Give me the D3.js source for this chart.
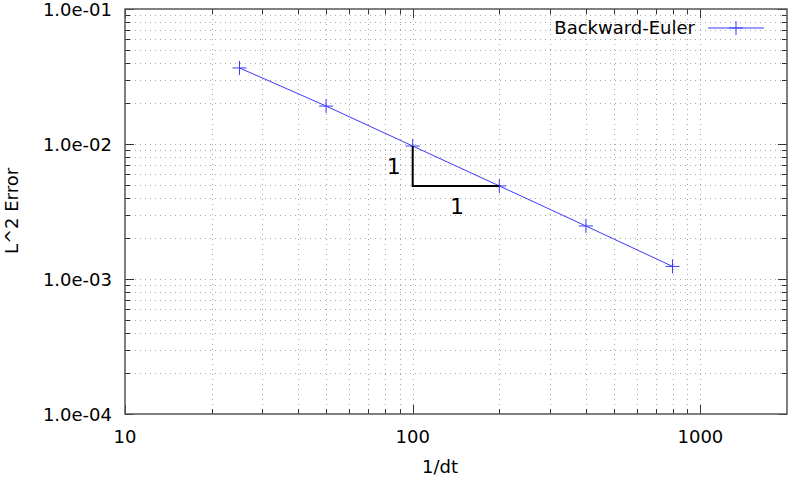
<!DOCTYPE html>
<html><head><meta charset="utf-8">
<script src="https://cdn.jsdelivr.net/npm/d3@7"></script>
<style>
body{margin:0;background:#fff;}
text{font-family:"DejaVu Sans",sans-serif;fill:#000;}
</style></head>
<body>
<svg id="c" width="789" height="478"></svg>
<script>
const dtInv = [25, 50, 100, 200, 400, 800];
const l2Error = [0.0366, 0.0191, 0.00966, 0.00489, 0.00247, 0.00124];
const seriesName = "Backward-Euler";
const xMajorTicks = [10, 100, 1000];
const yMajorTicks = [1e-4, 1e-3, 1e-2, 1e-1];
const yTickLabels = ["1.0e-04", "1.0e-03", "1.0e-02", "1.0e-01"];
const slopeTriangle = [[100, 0.00966], [100, 0.00489], [200, 0.00489]];
const slopeLabels = ["1", "1"];

const svg = d3.select("#c");
const L = 125, R = 787, T = 9, B = 414;
const x = d3.scaleLog().domain([10, 2000]).range([L, R]);
const y = d3.scaleLog().domain([1e-4, 1e-1]).range([B, T]);

// minor ticks
const xMinor = [], yMinor = [];
for (let d = 10; d < 2000; d *= 10) for (let m = 2; m <= 9; m++) if (d*m < 2000) xMinor.push(d*m);
for (let d = 1e-4; d < 1e-1*0.999; d *= 10) for (let m = 2; m <= 9; m++) yMinor.push(d*m);

const grid = svg.append("g").attr("stroke", "#a8a8a8").attr("stroke-width", 1).attr("stroke-dasharray", "1,4");
xMinor.concat(xMajorTicks.slice(1)).forEach(v => {
  grid.append("line").attr("x1", Math.round(x(v))+0.5).attr("x2", Math.round(x(v))+0.5).attr("y1", T).attr("y2", B);
});
yMinor.concat(yMajorTicks.slice(1, 3)).forEach(v => {
  grid.append("line").attr("y1", Math.round(y(v))+0.5).attr("y2", Math.round(y(v))+0.5).attr("x1", L).attr("x2", R);
});

// axes with ticks on all sides
const tk = svg.append("g").attr("stroke", "#333").attr("stroke-width", 1);
xMajorTicks.forEach(v => {
  const px = Math.round(x(v))+0.5;
  tk.append("line").attr("x1", px).attr("x2", px).attr("y1", B).attr("y2", B-9);
  tk.append("line").attr("x1", px).attr("x2", px).attr("y1", T).attr("y2", T+9);
});
xMinor.forEach(v => {
  const px = Math.round(x(v))+0.5;
  tk.append("line").attr("x1", px).attr("x2", px).attr("y1", B).attr("y2", B-5);
  tk.append("line").attr("x1", px).attr("x2", px).attr("y1", T).attr("y2", T+5);
});
yMajorTicks.forEach(v => {
  const py = Math.round(y(v))+0.5;
  tk.append("line").attr("y1", py).attr("y2", py).attr("x1", L).attr("x2", L+9);
  tk.append("line").attr("y1", py).attr("y2", py).attr("x1", R).attr("x2", R-9);
});
yMinor.forEach(v => {
  const py = Math.round(y(v))+0.5;
  tk.append("line").attr("y1", py).attr("y2", py).attr("x1", L).attr("x2", L+5);
  tk.append("line").attr("y1", py).attr("y2", py).attr("x1", R).attr("x2", R-5);
});

svg.append("rect").attr("x", L).attr("y", T).attr("width", R-L).attr("height", B-T)
  .attr("fill", "none").attr("stroke", "#555").attr("stroke-width", 1.5);

// tick labels
svg.append("g").selectAll("text").data(xMajorTicks).join("text")
  .attr("x", d => x(d)).attr("y", 443).attr("text-anchor", "middle")
  .attr("font-size", 18).text(d => d);
svg.append("g").selectAll("text").data(yMajorTicks).join("text")
  .attr("x", 112).attr("y", d => y(d) + 6.5).attr("text-anchor", "end")
  .attr("font-size", 18).text((d, i) => yTickLabels[i]);

// axis titles
svg.append("text").attr("x", 440).attr("y", 473).attr("text-anchor", "middle").attr("font-size", 18).text("1/dt");
svg.append("text").attr("transform", "translate(18,211) rotate(-90)").attr("text-anchor", "middle").attr("font-size", 18).text("L^2 Error");

// series
const data = dtInv.map((d, i) => [d, l2Error[i]]);
const blue = "#3a3aff";
svg.append("path").datum(data)
  .attr("d", d3.line().x(d => x(d[0])).y(d => y(d[1])))
  .attr("fill", "none").attr("stroke", blue).attr("stroke-width", 1);
const plus = (g, cx, cy) => {
  g.append("line").attr("x1", cx-7).attr("x2", cx+7).attr("y1", cy).attr("y2", cy);
  g.append("line").attr("x1", cx).attr("x2", cx).attr("y1", cy-7).attr("y2", cy+7);
};
const mk = svg.append("g").attr("stroke", blue).attr("stroke-width", 1);
data.forEach(d => plus(mk, x(d[0]), y(d[1])));

// slope triangle
svg.append("path").datum(slopeTriangle)
  .attr("d", d3.line().x(d => x(d[0])).y(d => y(d[1])))
  .attr("fill", "none").attr("stroke", "#000").attr("stroke-width", 2);
svg.append("text").attr("x", x(slopeTriangle[0][0]) - 19).attr("y", (y(slopeTriangle[0][1]) + y(slopeTriangle[1][1]))/2 + 8)
  .attr("text-anchor", "middle").attr("font-size", 22).text(slopeLabels[0]);
svg.append("text").attr("x", (x(slopeTriangle[1][0]) + x(slopeTriangle[2][0]))/2 + 1).attr("y", y(slopeTriangle[2][1]) + 28)
  .attr("text-anchor", "middle").attr("font-size", 22).text(slopeLabels[1]);

// legend
svg.append("text").attr("x", 695).attr("y", 34).attr("text-anchor", "end").attr("font-size", 18).text(seriesName);
const lg = svg.append("g").attr("stroke", blue).attr("stroke-width", 1);
lg.append("line").attr("x1", 708).attr("x2", 764).attr("y1", 28).attr("y2", 28);
plus(lg, 736, 28);
</script>
</body></html>
